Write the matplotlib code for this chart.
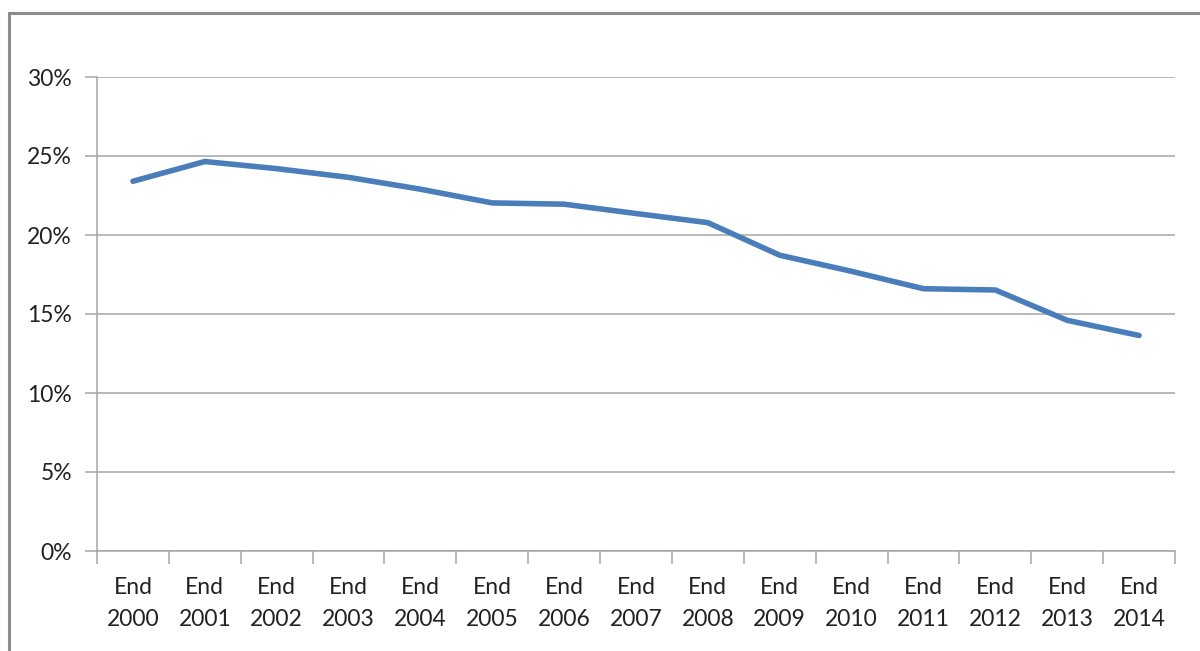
import numpy as np
import matplotlib
matplotlib.use("Agg")
import matplotlib.pyplot as plt
from matplotlib.patches import Rectangle

years = ["End\n2000", "End\n2001", "End\n2002", "End\n2003", "End\n2004",
         "End\n2005", "End\n2006", "End\n2007", "End\n2008", "End\n2009",
         "End\n2010", "End\n2011", "End\n2012", "End\n2013", "End\n2014"]
share = [23.4, 24.65, 24.2, 23.65, 22.9, 22.03, 21.95, 21.36, 20.78,
         18.72, 17.7, 16.6, 16.52, 14.6, 13.64]
y_ticks = [0, 5, 10, 15, 20, 25, 30]

plt.rcParams['font.family'] = ['Lato', 'DejaVu Sans']

fig = plt.figure(figsize=(12, 6.51), dpi=100)
ax = fig.add_axes([97/1200, 100/651, 1078/1200, 474/651])

x = np.arange(len(years))
ax.plot(x, share, color='#4a7ebb', linewidth=4.0, solid_capstyle='round',
        solid_joinstyle='round', zorder=3)

ax.set_xlim(-0.5, len(years) - 0.5)
ax.set_ylim(0, 30)
ax.set_yticks(y_ticks)
ax.set_yticklabels([f"{v}%" for v in y_ticks])
ax.yaxis.grid(True, color='#a6a6a6', linewidth=1.1)
ax.set_axisbelow(True)

# category boundaries get the tick marks, labels sit in between
ax.set_xticks(np.arange(-0.5, len(years), 1.0))
ax.set_xticklabels([])
ax.set_xticks(x, minor=True)
ax.set_xticklabels(years, minor=True, linespacing=1.6)
ax.tick_params(axis='x', which='major', length=9, width=1.1, color='#a6a6a6')
ax.tick_params(axis='x', which='minor', length=0, pad=19, labelsize=16.5, labelcolor='#222222')
ax.tick_params(axis='y', length=9, width=1.1, color='#a6a6a6', pad=9,
               labelsize=16.5, labelcolor='#222222')

for side in ['top', 'right']:
    ax.spines[side].set_visible(False)
for side in ['left', 'bottom']:
    ax.spines[side].set_color('#a6a6a6')
    ax.spines[side].set_linewidth(1.1)

# outer chart frame, cropped at right and bottom
fig.patches.append(Rectangle((9/1200, -0.05), 1.2, (651 - 13)/651 + 0.05,
                             transform=fig.transFigure, fill=False,
                             edgecolor='#8c8c8c', linewidth=2.2))

fig.savefig("out.png", dpi=100)
